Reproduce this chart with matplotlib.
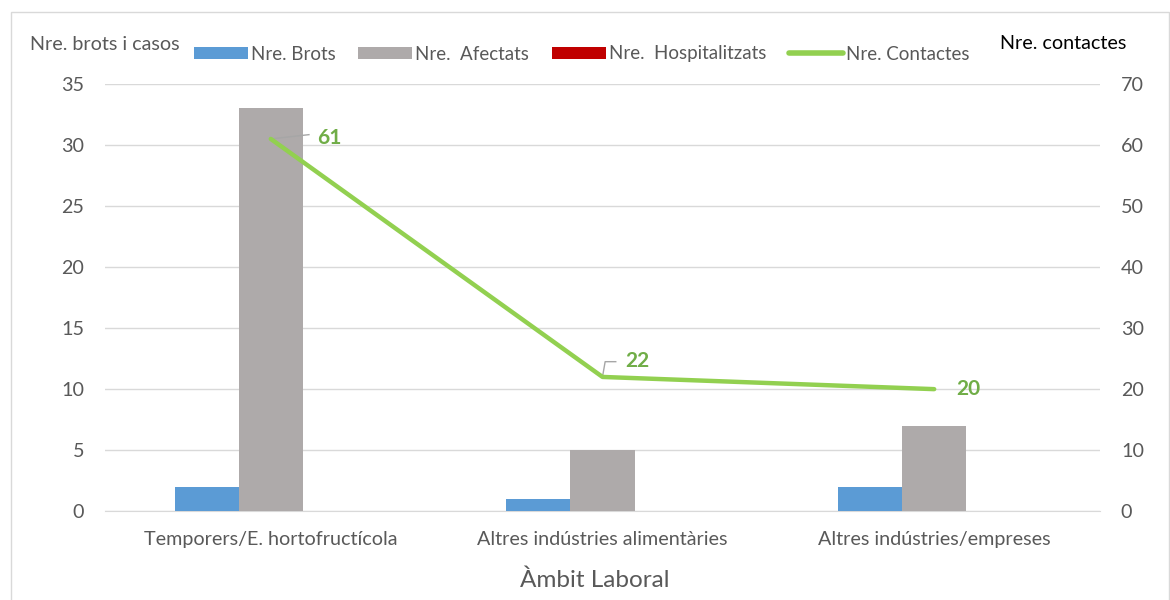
import numpy as np
import matplotlib.pyplot as plt
from matplotlib.patches import Rectangle

categories = ['Temporers/E. hortofructícola', 'Altres indústries alimentàries', 'Altres indústries/empreses']
brots = [2, 1, 2]
afectats = [33, 5, 7]
hospitalitzats = [0, 0, 0]
contactes = [61, 22, 20]

plt.rcParams['font.family'] = ['Lato', 'DejaVu Sans']
grey = '#595959'
fs = 14.2

fig = plt.figure(figsize=(11.7, 6), dpi=100)
ax = fig.add_axes([0.0897, 0.148, 0.8505, 0.712])
ax2 = ax.twinx()

x = np.arange(len(categories))
w = 0.193
ax.bar(x - w, brots, w, color='#5B9BD5', label='Nre. Brots', zorder=3)
ax.bar(x, afectats, w, color='#AEAAAA', label='Nre.  Afectats', zorder=3)
ax.bar(x + w, hospitalitzats, w, color='#C00000', label='Nre.  Hospitalitzats', zorder=3)
ln, = ax2.plot(x, contactes, color='#92D050', lw=3.2, solid_capstyle='round',
               label='Nre. Contactes', zorder=4)

ax.set_xlim(-0.5, 2.5)
ax.set_ylim(0, 35)
ax2.set_ylim(0, 70)
ax.set_yticks(range(0, 36, 5))
ax2.set_yticks(range(0, 71, 10))
ax.set_xticks(x)
ax.set_xticklabels(categories)
ax.grid(axis='y', color='#D9D9D9', lw=1, zorder=0)
ax.set_axisbelow(True)
for a in (ax, ax2):
    for s in a.spines.values():
        s.set_visible(False)
    a.tick_params(length=0, labelsize=fs, colors=grey, pad=15)
ax.spines['bottom'].set_visible(True)
ax.spines['bottom'].set_color('#D9D9D9')
ax.tick_params(axis='x', pad=14)
ax2.tick_params(axis='y', pad=15)

ax.set_xlabel('Àmbit Laboral', fontsize=17.5, color=grey, labelpad=16)
ax.xaxis.label.set_x(0.4925)
fig.text(0.026, 0.925, 'Nre. brots i casos', fontsize=fs, color=grey, va='center')
fig.text(0.855, 0.927, 'Nre. contactes', fontsize=fs, color='black', va='center')

# data labels with leader lines
label_green = '#70AD47'
offsets = [(42, 1), (25, 11.5), (24.5, 0)]
for i, v in enumerate(contactes):
    dx, dy = offsets[i]
    ax2.annotate(str(v), (x[i], v), xytext=(dx, dy), textcoords='offset points',
                 fontsize=15, fontweight='bold', color=label_green, va='center', ha='center', zorder=5)
ax2.plot([x[0], x[0] + 0.115], [61, 61.7], color='#A6A6A6', lw=1, zorder=3)
ax2.plot([x[1], x[1] + 0.008, x[1] + 0.04], [22, 24.5, 24.5], color='#A6A6A6', lw=1, zorder=3)

handles = ax.get_legend_handles_labels()[0] + [ln]
labels = ax.get_legend_handles_labels()[1] + [ln.get_label()]
leg = fig.legend(handles, labels, loc='center', bbox_to_anchor=(0.497, 0.91), ncol=4, frameon=False,
                 fontsize=13.5, labelcolor=grey, handlelength=2.9, handleheight=0.65,
                 handletextpad=0.15, columnspacing=1.2)
leg.legend_handles[3].set_linewidth(4)

fig.patches.append(Rectangle((0.009, -0.01), 0.99, 0.99, transform=fig.transFigure,
                             fill=False, edgecolor='#D9D9D9', lw=1))

fig.savefig('out.png')
